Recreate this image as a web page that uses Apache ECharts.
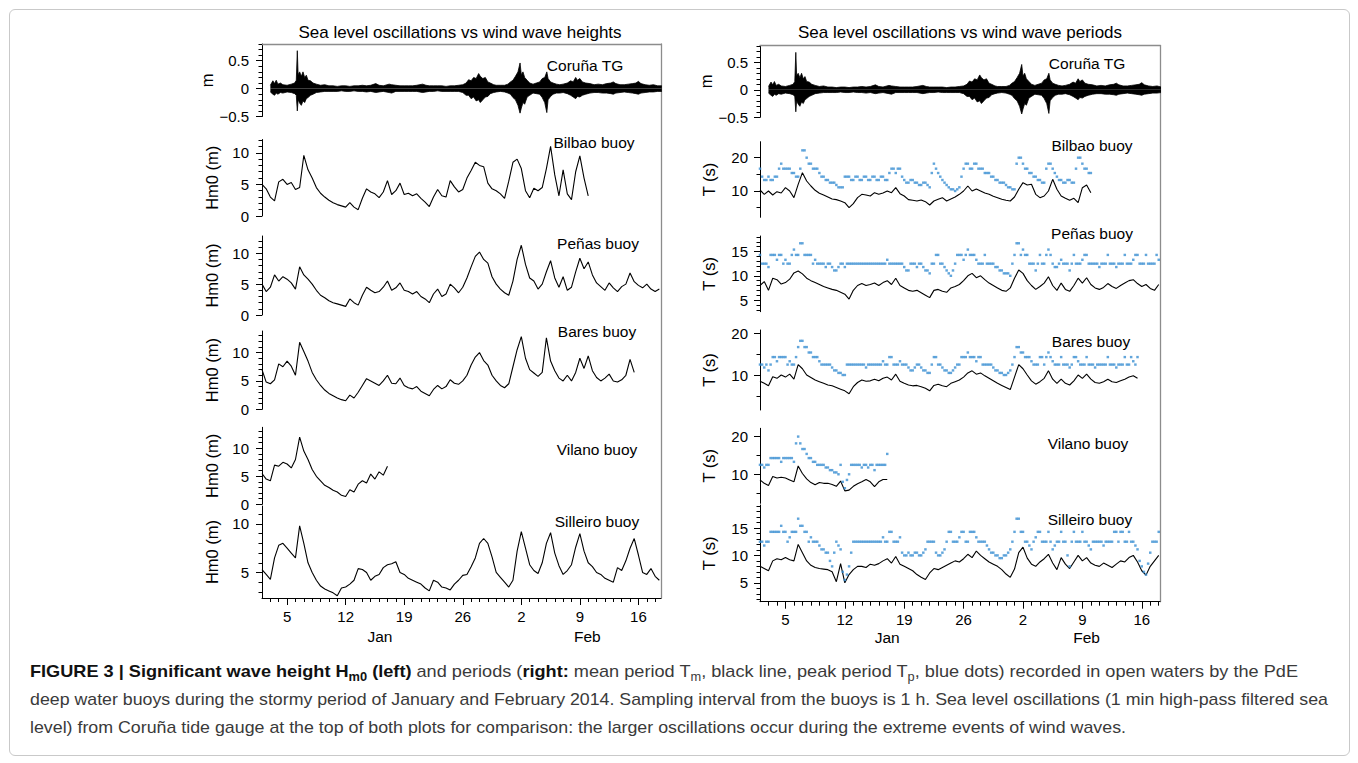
<!DOCTYPE html>
<html><head><meta charset="utf-8">
<script src="https://cdn.jsdelivr.net/npm/echarts@6/dist/echarts.min.js"></script>
<style>
html,body{margin:0;padding:0;background:#fff;}
#frame{position:absolute;left:9px;top:9px;width:1339px;height:745px;border:1px solid #c9c9c9;border-radius:6px;}
#chart{position:absolute;left:0;top:0;width:1358px;height:652px;}
.cap{position:absolute;left:30px;white-space:nowrap;font-family:'Liberation Sans Narrow','Liberation Sans',Arial,sans-serif;font-size:17px;color:#3a3a3a;transform-origin:0 50%;line-height:20px;height:20px;}
.cap b{color:#111;}
.cap sub{font-size:12px;vertical-align:-4px;line-height:0;}
</style></head><body>
<div id="frame"></div>
<div id="chart"></div>
<div class="cap" id="c1" style="top:662px"><b>FIGURE 3 | Significant wave height H<sub>m0</sub> (left)</b> and periods (<b>right:</b> mean period T<sub>m</sub>, black line, peak period T<sub>p</sub>, blue dots) recorded in open waters by the PdE</div>
<div class="cap" id="c2" style="top:690px">deep water buoys during the stormy period of January and February 2014. Sampling interval from the buoys is 1 h. Sea level oscillations (1 min high-pass filtered sea</div>
<div class="cap" id="c3" style="top:718px">level) from Coruña tide gauge at the top of both plots for comparison: the larger oscillations occur during the extreme events of wind waves.</div>
<script>
// ---------------- DATA ----------------
// time base: days since 2014-01-02 00:00 UTC; buoy series sampled every 0.5 day
const STEP = 0.5;
const dateTicks = ['2014-01-05','2014-01-12','2014-01-19','2014-01-26','2014-02-02','2014-02-09','2014-02-16'];
const monthLabels = ['Jan','Feb'];
const tgTicks = [-0.5, 0, 0.5];
const hmTicks = [0, 5, 10];
const hmTicksSilleiro = [5, 10];
const tTicksWide = [10, 20];
const tTicksNarrow = [5, 10, 15];

// Coruña tide gauge: envelope of the 1-min high-pass sea level (m)
const tgDays = [1.0,1.3,1.5,1.7,1.9,2.2,2.5,3.0,3.5,3.9,
 4.1,4.22,4.32,4.5,4.7,4.9,5.1,5.3,5.5,5.8,
 6.1,6.5,7.0,7.5,8.0,8.5,9.0,9.5,10.0,10.5,
 11.0,11.5,12.0,12.5,13.0,13.6,14.0,14.5,15.2,15.5,
 16.0,16.5,17.0,17.5,18.0,18.5,19.2,19.6,20.0,20.5,
 21.0,21.5,22.0,22.5,23.0,23.5,24.0,24.4,24.7,25.0,
 25.3,25.6,25.9,26.1,26.4,26.7,27.0,27.3,27.7,28.0,
 28.5,29.0,29.4,29.7,30.0,30.3,30.6,30.85,31.0,31.2,
 31.4,31.7,32.0,32.4,32.8,33.2,33.5,33.8,34.05,34.2,
 34.5,34.8,35.2,35.6,36.0,36.5,36.9,37.2,37.5,37.7,
 38.0,38.3,38.7,39.2,39.7,40.2,40.7,41.2,41.7,42.0,
 42.3,42.8,43.3,43.8,44.3,44.7,45.0,45.3,45.8,46.3,
 46.8,47.3,47.8];
const tgUpper = [0.06,0.14,0.09,0.15,0.08,0.10,0.07,0.06,0.08,0.10,
 0.15,0.68,0.25,0.30,0.22,0.30,0.20,0.24,0.15,0.14,
 0.10,0.08,0.06,0.07,0.05,0.05,0.04,0.05,0.05,0.04,
 0.05,0.05,0.06,0.05,0.06,0.09,0.06,0.05,0.08,0.07,
 0.06,0.05,0.05,0.05,0.05,0.06,0.08,0.06,0.05,0.05,
 0.05,0.05,0.04,0.05,0.05,0.06,0.07,0.10,0.16,0.14,
 0.20,0.18,0.27,0.22,0.18,0.20,0.12,0.10,0.07,0.06,
 0.06,0.06,0.08,0.12,0.15,0.22,0.30,0.46,0.25,0.30,
 0.20,0.15,0.10,0.08,0.10,0.12,0.18,0.20,0.30,0.18,
 0.12,0.10,0.08,0.07,0.08,0.10,0.14,0.12,0.20,0.15,
 0.18,0.12,0.10,0.09,0.07,0.08,0.07,0.09,0.10,0.12,
 0.09,0.07,0.07,0.08,0.09,0.10,0.13,0.09,0.07,0.06,
 0.07,0.05,0.05];
const tgLower = [-0.06,-0.10,-0.12,-0.08,-0.10,-0.07,-0.08,-0.06,-0.07,-0.09,
 -0.12,-0.40,-0.20,-0.26,-0.30,-0.22,-0.25,-0.18,-0.16,-0.12,
 -0.10,-0.07,-0.06,-0.05,-0.05,-0.05,-0.05,-0.04,-0.05,-0.05,
 -0.04,-0.05,-0.05,-0.06,-0.05,-0.07,-0.06,-0.05,-0.07,-0.08,
 -0.05,-0.05,-0.05,-0.05,-0.05,-0.05,-0.07,-0.06,-0.05,-0.05,
 -0.04,-0.05,-0.05,-0.05,-0.05,-0.05,-0.07,-0.12,-0.12,-0.18,
 -0.15,-0.22,-0.20,-0.25,-0.20,-0.15,-0.14,-0.09,-0.07,-0.06,
 -0.05,-0.06,-0.08,-0.10,-0.16,-0.20,-0.30,-0.44,-0.35,-0.25,
 -0.28,-0.15,-0.12,-0.08,-0.09,-0.10,-0.16,-0.25,-0.43,-0.20,
 -0.14,-0.10,-0.08,-0.08,-0.07,-0.09,-0.12,-0.15,-0.18,-0.14,
 -0.15,-0.12,-0.10,-0.08,-0.07,-0.07,-0.08,-0.08,-0.09,-0.10,
 -0.08,-0.07,-0.06,-0.07,-0.08,-0.09,-0.10,-0.08,-0.07,-0.06,
 -0.06,-0.05,-0.05];

// Significant wave height Hm0 (m), from day 0
const hm0Bilbao = [5.0,4.3,3.0,2.4,5.4,5.8,5.0,5.3,4.2,4.5, 9.6,7.3,6.0,4.5,3.6,3.0,2.5,2.1,1.8,1.6,
 1.4,2.1,1.4,1.0,2.8,4.3,3.8,3.5,2.9,3.8, 5.6,3.4,4.0,5.2,3.4,3.6,3.2,3.5,2.8,2.2,
 1.5,3.0,4.2,3.2,3.0,5.6,4.6,3.8,4.2,6.0, 7.2,8.5,8.0,7.8,5.2,4.3,4.0,3.5,2.8,5.5,
 8.5,9.0,7.5,4.0,2.9,4.4,4.0,4.5,7.5,11.0, 6.5,3.2,7.3,3.5,2.6,7.0,9.5,6.0,3.2];
const hm0Penas = [5.0,3.8,4.5,6.5,5.5,6.2,5.8,5.2,4.2,7.8, 6.5,5.8,5.0,4.0,3.2,2.8,2.3,2.0,1.8,1.6,
 1.4,2.6,2.0,1.6,3.2,4.5,4.0,3.6,3.8,4.5, 5.5,4.0,4.4,5.2,4.0,3.8,3.4,3.8,3.0,2.6,
 2.0,3.4,4.2,3.0,3.4,5.0,4.4,3.6,4.5,6.0, 7.8,9.5,10.2,9.0,8.4,6.2,5.0,4.2,3.6,3.2,
 5.5,9.0,11.3,8.2,6.0,5.5,4.2,5.0,7.0,8.8, 6.0,4.5,6.2,4.0,4.5,7.0,9.2,7.5,8.6,6.5,
 5.2,4.6,4.0,5.2,4.4,3.8,4.6,5.0,6.8,5.4, 4.8,4.4,5.0,4.2,3.8,4.2];
const hm0Bares = [7.0,4.8,4.5,5.2,8.0,7.5,8.5,7.6,6.0,11.8, 10.2,8.5,6.5,5.2,4.2,3.4,2.8,2.4,2.0,1.7,
 1.5,2.5,2.0,3.0,4.2,5.4,5.0,4.6,4.2,5.0, 6.0,4.6,4.5,5.5,4.2,3.8,3.6,4.0,3.2,2.8,
 2.4,3.5,4.2,3.6,4.0,5.2,4.6,4.4,5.0,6.0, 7.8,9.2,10.0,8.6,7.8,6.0,5.0,4.2,3.8,4.5,
 7.5,10.5,12.8,9.0,7.0,6.4,5.8,6.5,12.6,8.5, 6.8,5.5,5.0,6.0,5.0,6.5,9.0,7.2,9.4,6.8,
 5.6,5.0,5.5,6.2,5.0,4.8,5.2,6.0,8.8,6.5];
const hm0Vilano = [5.5,4.5,4.2,7.0,6.8,7.5,7.2,6.5,8.0,12.0, 9.5,8.0,6.2,5.0,4.2,3.4,3.0,2.5,2.2,1.6,
 1.4,2.6,2.2,3.6,4.2,3.8,5.4,4.5,5.8,5.2, 6.8];
const hm0Silleiro = [5.3,4.8,4.3,6.5,7.8,8.0,7.5,7.0,6.5,9.8, 8.0,6.0,5.0,4.2,3.6,3.3,3.1,2.9,2.6,3.4,
 3.5,3.8,4.2,5.4,5.3,5.0,4.2,4.6,4.8,5.5, 5.8,5.9,6.1,5.0,4.8,4.4,4.2,4.0,3.8,3.4,
 3.1,4.2,4.0,3.5,3.4,3.2,3.8,4.2,4.7,4.8, 5.6,6.5,8.0,8.5,8.0,6.6,5.0,4.5,4.0,3.5,
 4.2,7.2,9.2,7.5,5.8,5.2,4.9,6.0,8.0,9.1, 7.0,5.7,4.8,5.2,5.8,7.6,9.0,7.2,6.0,5.6,
 5.0,4.8,4.4,4.2,4.0,5.5,5.2,6.2,7.5,8.5, 6.8,5.0,4.8,5.4,4.6,4.2];

// Mean period Tm (s), from day 0
const tmBilbao = [10.3,9.0,10.0,8.8,9.8,9.4,11.0,10.0,8.0,12.0, 15.5,13.0,11.5,10.2,9.3,8.8,8.2,7.6,7.4,7.0,
 6.5,5.0,6.2,8.0,9.0,8.8,8.5,9.5,9.0,9.4, 10.0,9.5,11.0,9.2,8.5,7.4,7.2,7.0,7.3,6.8,
 5.8,7.0,7.5,8.0,7.0,7.6,8.2,9.0,10.0,11.5, 10.0,10.6,10.0,9.4,9.0,8.4,8.0,7.5,7.2,7.0,
 8.2,10.5,12.5,11.8,12.0,9.0,8.0,8.5,10.0,13.5, 10.5,8.5,7.8,7.2,7.8,6.5,11.0,11.8,9.5];
const tmPenas = [8.0,8.8,7.0,9.5,9.2,8.3,8.6,9.3,10.6,11.0, 10.4,9.5,9.0,8.6,8.2,7.8,7.5,7.2,7.0,6.6,
 6.2,5.2,7.0,8.0,8.4,8.0,8.2,8.5,8.0,8.6, 9.0,8.2,9.5,8.0,7.5,7.0,6.8,7.0,6.5,6.0,
 5.5,7.0,7.2,6.8,6.6,7.5,7.8,8.2,9.0,10.0, 10.5,9.6,10.0,9.2,8.5,8.0,7.5,7.0,6.8,7.5,
 9.5,11.2,10.5,9.0,8.0,7.2,7.8,8.5,9.8,8.0, 7.0,8.5,7.2,6.8,8.0,9.5,8.5,9.6,8.2,7.5,
 7.2,7.6,8.4,7.8,7.4,8.0,8.5,9.0,9.2,8.4, 7.8,8.2,7.4,7.0,8.2];
const tmBares = [8.5,8.0,7.4,9.6,9.2,10.0,9.5,10.2,9.0,12.5, 11.5,10.0,9.4,8.8,8.4,8.0,7.6,7.4,7.0,6.6,
 6.2,5.5,7.2,8.2,8.8,8.5,8.6,9.0,8.6,9.2, 9.5,8.8,10.2,8.5,8.0,7.6,7.4,7.5,7.2,6.8,
 6.2,7.5,7.8,7.4,7.2,8.0,8.4,8.8,9.5,10.5, 11.0,10.2,10.5,9.8,9.2,8.6,8.0,7.5,7.0,6.5,
 9.5,12.5,11.5,10.0,8.6,7.8,8.4,9.2,11.0,9.0, 8.0,9.0,8.0,7.6,8.6,10.0,9.2,10.2,9.0,8.2,
 8.0,8.4,9.0,8.4,8.2,8.6,9.0,9.5,9.8,9.2];
const tmVilano = [8.5,7.6,7.0,9.4,9.0,9.2,9.0,8.5,8.0,12.2, 10.2,8.8,7.8,7.2,7.8,7.6,7.6,7.3,6.8,8.2,
 5.6,5.8,6.8,7.5,8.0,8.6,8.0,6.7,8.0,8.6, 8.6];
const tmSilleiro = [8.0,7.6,7.2,9.0,9.4,9.2,9.6,9.2,9.0,12.0, 10.5,9.0,8.2,7.8,7.6,7.5,7.4,7.0,5.2,8.5,
 5.0,6.5,7.4,8.0,8.0,7.8,8.4,8.2,8.5,9.0, 9.4,8.6,9.8,8.4,8.0,7.6,7.2,6.5,6.0,5.6,
 6.8,7.6,7.4,7.8,8.2,8.6,9.0,8.8,9.4,10.2, 9.6,10.8,10.0,9.4,8.8,8.4,8.0,7.4,6.6,6.0,
 7.5,10.5,11.5,9.5,8.4,8.0,8.8,9.4,10.2,8.6, 7.4,9.6,8.4,7.6,8.8,10.0,9.0,9.6,8.6,8.2,
 8.0,8.6,8.2,7.8,8.4,9.0,8.8,9.6,10.0,8.8, 7.2,6.4,8.0,9.0,10.0];

// Peak period Tp (s): samples on the whole and half days (from day 0) ...
const tpBilbao = [16.7,13.3,14.3,13.3,14.3,18.2,16.7,16.7,15.4,14.3, 22.2,20,18.2,16.7,15.4,14.3,13.3,12.5,11.8,11.1,
 14.3,14.3,13.3,14.3,13.3,14.3,13.3,14.3,13.3,14.3, 13.3,16.7,15.4,16.7,13.3,12.5,13.3,12.5,11.8,12.5,
 11.1,18.2,15.4,13.3,11.8,10.5,10,11.1,16.7,18.2, 16.7,18.2,16.7,15.4,15.4,14.3,13.3,12.5,11.8,11.1,
 10.5,20,18.2,16.7,15.4,14.3,13.3,12.5,18.2,16.7, 14.3,13.3,12.5,13.3,12.5,20,18.2,16.7,15.4];
const tpPenas = [14.3,12.5,11.8,14.3,13.3,14.3,13.3,12.5,15.4,14.3, 16.7,14.3,14.3,13.3,12.5,12.5,12.5,11.8,11.1,12.5,
 11.8,12.5,12.5,12.5,12.5,12.5,12.5,12.5,12.5,12.5, 13.3,12.5,12.5,12.5,11.8,11.1,12.5,11.8,12.5,11.1,
 10.5,12.5,14.3,12.5,11.1,10.0,12.5,14.3,13.3,15.4, 14.3,13.3,12.5,14.3,12.5,12.5,11.8,11.1,10.5,10.0,
 14.3,16.7,15.4,14.3,12.5,11.1,14.3,12.5,15.4,12.5, 11.8,13.3,12.5,11.1,14.3,12.5,13.3,14.3,12.5,12.5,
 11.8,12.5,14.3,12.5,11.8,12.5,14.3,12.5,13.3,14.3, 12.5,14.3,12.5,12.5,13.3];
const tpBares = [12.5,11.8,11.1,14.3,13.3,14.3,14.3,13.3,12.5,16.7, 18.2,16.7,15.4,14.3,13.3,12.5,12.5,11.8,11.1,10.5,
 10.0,12.5,12.5,12.5,12.5,11.8,12.5,12.5,12.5,13.3, 12.5,14.3,12.5,13.3,12.5,11.8,11.1,12.5,11.8,11.1,
 10.5,14.3,12.5,11.8,11.1,10.5,11.8,12.5,14.3,15.4, 14.3,13.3,14.3,12.5,12.5,11.8,11.1,10.5,10.0,11.1,
 14.3,16.7,15.4,14.3,13.3,12.5,14.3,12.5,15.4,13.3, 12.5,14.3,12.5,11.8,14.3,13.3,12.5,14.3,12.5,11.8,
 12.5,12.5,14.3,12.5,11.8,12.5,14.3,12.5,13.3,14.3];
const tpVilano = [12.5,11.8,12.5,14.3,14.3,13.3,14.3,14.3,13.3,20, 16.7,15.4,14.3,13.3,12.5,12.5,11.8,11.1,10.5,12.5,
 6.3,10.0,12.5,12.5,11.8,12.5,12.5,11.1,12.5,12.5, 15.4];
const tpSilleiro = [12.5,11.8,12.5,14.3,14.3,15.4,14.3,13.3,14.3,16.7, 15.4,14.3,13.3,12.5,11.8,11.1,10.5,8.0,12.5,11.1,
 5.5,8.0,12.5,12.5,12.5,12.5,12.5,12.5,12.5,13.3, 12.5,14.3,12.5,13.3,10.0,10.5,10.0,10.5,10.0,11.1,
 12.5,12.5,10.0,10.5,12.5,14.3,12.5,13.3,14.3,12.5, 14.3,13.3,12.5,12.5,11.1,10.5,10.0,9.5,10.0,11.1,
 14.3,16.7,14.3,12.5,11.1,13.3,14.3,12.5,14.3,11.1, 12.5,14.3,12.5,8.0,14.3,12.5,14.3,12.5,11.1,12.5,
 12.5,11.8,12.5,12.5,14.3,14.3,12.5,14.3,12.5,11.1, 8.0,6.5,10.5,12.5,14.3];
// ... and the samples in between (from day 0.25)
const tp2Bilbao = [14.3,13.3,13.3,14.3,16.7,16.7,16.7,15.4,14.3,16.7, 22.2,18.2,16.7,16.7,14.3,13.3,12.5,12.5,11.1,11.1,
 14.3,13.3,14.3,13.3,14.3,13.3,14.3,13.3,14.3,13.3, 15.4,16.7,16.7,14.3,12.5,13.3,12.5,11.8,12.5,11.8,
 15.4,16.7,14.3,12.5,11.1,10.5,10.5,14.3,18.2,16.7, 18.2,16.7,16.7,15.4,14.3,13.3,12.5,12.5,11.1,10.5,
 18.2,20,16.7,15.4,14.3,13.3,12.5,16.7,18.2,15.4, 13.3,12.5,13.3,12.5,16.7,20,16.7,15.4];
const tp2Penas = [12.5,12.5,14.3,14.3,14.3,12.5,12.5,14.3,14.3,16.7, 14.3,14.3,12.5,12.5,12.5,11.8,12.5,11.1,11.8,12.5,
 12.5,12.5,12.5,12.5,12.5,12.5,12.5,12.5,12.5,12.5, 12.5,12.5,12.5,12.5,11.1,12.5,12.5,12.5,11.8,11.1,
 12.5,14.3,12.5,11.8,10.5,11.1,14.3,14.3,14.3,14.3, 14.3,12.5,12.5,12.5,12.5,11.8,11.1,10.5,10.5,12.5,
 16.7,14.3,14.3,12.5,12.5,12.5,12.5,14.3,14.3,11.8, 12.5,12.5,12.5,12.5,12.5,12.5,14.3,12.5,12.5,12.5,
 12.5,12.5,12.5,12.5,12.5,12.5,12.5,12.5,14.3,12.5, 12.5,12.5,12.5,14.3];
const tp2Bares = [12.5,12.5,12.5,14.3,14.3,14.3,12.5,12.5,14.3,18.2, 16.7,15.4,14.3,14.3,12.5,12.5,12.5,11.1,10.5,10.0,
 12.5,12.5,12.5,12.5,12.5,12.5,12.5,12.5,12.5,12.5, 14.3,12.5,12.5,12.5,12.5,11.1,11.8,12.5,11.1,10.5,
 12.5,14.3,12.5,11.1,10.5,11.1,12.5,14.3,14.3,14.3, 14.3,14.3,12.5,12.5,12.5,11.1,10.5,10.0,10.5,12.5,
 16.7,15.4,14.3,14.3,12.5,12.5,14.3,14.3,14.3,12.5, 12.5,12.5,12.5,12.5,14.3,12.5,12.5,12.5,12.5,12.5,
 12.5,12.5,12.5,12.5,12.5,12.5,12.5,14.3,12.5];
const tp2Vilano = [12.5,12.5,14.3,14.3,14.3,14.3,14.3,14.3,18.2,18.2, 16.7,14.3,13.3,12.5,12.5,11.8,11.1,10.5,10.0,8.0,
 8.5,12.5,12.5,12.5,12.5,11.8,12.5,12.5,12.5,12.5];
const tp2Silleiro = [12.5,12.5,14.3,14.3,14.3,14.3,12.5,14.3,14.3,15.4, 14.3,12.5,12.5,12.5,11.1,10.5,9.0,10.5,11.8,7.0,
 6.5,10.5,12.5,12.5,12.5,12.5,12.5,12.5,12.5,12.5, 14.3,12.5,12.5,10.5,10.0,10.0,10.5,10.0,10.5,12.5,
 12.5,10.5,10.0,11.1,14.3,12.5,12.5,14.3,12.5,14.3, 14.3,12.5,12.5,11.8,10.5,10.0,9.5,10.0,10.5,12.5,
 16.7,14.3,12.5,11.8,12.5,14.3,12.5,12.5,12.5,11.8, 12.5,12.5,10.0,12.5,12.5,12.5,12.5,11.8,12.5,12.5,
 12.5,12.5,12.5,14.3,12.5,14.3,12.5,12.5,11.8,9.0, 7.0,8.5,12.5,12.5];

// ---------------- CHART ----------------
const DAY = 86400000;
const T0 = Date.UTC(2014, 0, 2);
const parseDate = s => { const p = s.split('-').map(Number); return (Date.UTC(p[0], p[1]-1, p[2]) - T0) / DAY; };
const majorDays = dateTicks.map(parseDate);   // x axis in days since 2 Jan 2014
const dayLabel = v => String(new Date(T0 + v * DAY).getUTCDate());
const monthLabel = v => monthLabels[new Date(T0 + v * DAY).getUTCMonth()];
const toData = (arr, start) => arr.map((v, i) => [start + i * STEP, v]);
const pairData = (days, arr) => arr.map((v, i) => [days[i], v]);
const range = (a, b, s) => { const r = []; for (let v = a; v <= b + 1e-9; v += s) r.push(+v.toFixed(3)); return r; };
const fmtY = v => (v < 0 ? '\u2212' + Math.abs(v) : String(v));
const FONT = '"Liberation Sans", Arial, Helvetica, sans-serif';
const BLUE = '#3a8fd2';

const cols = [
  { x: 262, w: 399, xmax: 47.7, frameTop: 44, frameBottom: 598, nameGap: 42, labMargin: 13,
    dayMargin: 11, monthMargin: 30, monthDays: [14.1, 38.9],
    title: { text: 'Sea level oscillations vs wind wave heights', x: 460, y: 32.5 },
    panels: [
      { top: 44, bottom: 116.5, min: -0.5, max: 0.8, major: tgTicks, minor: range(-0.5, 0.8, 0.1), name: 'm', lab: ['Coruña TG', 585, 65], kind: 'tg' },
      { top: 139.5, bottom: 216, min: 0, max: 12.1, major: hmTicks, minor: range(0, 12, 1), name: 'Hm0 (m)', lab: ['Bilbao buoy', 594, 142], line: hm0Bilbao },
      { top: 236, bottom: 315, min: 0, max: 12.8, major: hmTicks, minor: range(0, 12, 1), name: 'Hm0 (m)', lab: ['Peñas buoy', 598, 243], line: hm0Penas },
      { top: 331, bottom: 409.3, min: 0, max: 13.8, major: hmTicks, minor: range(0, 13, 1), name: 'Hm0 (m)', lab: ['Bares buoy', 597, 331], line: hm0Bares },
      { top: 427.3, bottom: 504.3, min: 0, max: 13.75, major: hmTicks, minor: range(0, 13, 1), name: 'Hm0 (m)', lab: ['Vilano buoy', 597, 449], line: hm0Vilano },
      { top: 506, bottom: 598, min: 2.37, max: 11.85, major: hmTicksSilleiro, minor: range(3, 11, 1), name: 'Hm0 (m)', lab: ['Silleiro buoy', 597, 521], line: hm0Silleiro }
    ] },
  { x: 760, w: 400, xmax: 47.15, frameTop: 45.5, frameBottom: 601.7, nameGap: 43, labMargin: 12,
    dayMargin: 10, monthMargin: 28, monthDays: [15, 38.5],
    title: { text: 'Sea level oscillations vs wind wave periods', x: 960, y: 32.5 },
    panels: [
      { top: 45.5, bottom: 117.3, min: -0.5, max: 0.805, major: tgTicks, minor: range(-0.5, 0.8, 0.1), name: 'm', lab: ['Coruña TG', 1087, 63], kind: 'tg' },
      { top: 141.7, bottom: 217.3, min: 2.1, max: 24.8, major: tTicksWide, minor: [5, 15], name: 'T (s)', lab: ['Bilbao buoy', 1092, 145], line: tmBilbao, dots: tpBilbao, dots2: tp2Bilbao },
      { top: 236, bottom: 311.7, min: 2.6, max: 18.2, major: tTicksNarrow, minor: range(3, 18, 1), name: 'T (s)', lab: ['Peñas buoy', 1092, 233], line: tmPenas, dots: tpPenas, dots2: tp2Penas },
      { top: 330, bottom: 410, min: 1.6, max: 20.8, major: tTicksWide, minor: [5, 15], name: 'T (s)', lab: ['Bares buoy', 1091, 341], line: tmBares, dots: tpBares, dots2: tp2Bares },
      { top: 428.3, bottom: 503.3, min: 2.3, max: 22.2, major: tTicksWide, minor: [5, 15], name: 'T (s)', lab: ['Vilano buoy', 1088, 443], line: tmVilano, dots: tpVilano, dots2: tp2Vilano },
      { top: 505, bottom: 601.7, min: 1.55, max: 19.2, major: tTicksNarrow, minor: range(2, 19, 1), name: 'T (s)', lab: ['Silleiro buoy', 1090, 519], line: tmSilleiro, dots: tpSilleiro, dots2: tp2Silleiro }
    ] }
];

const option = { animation: false, backgroundColor: 'transparent',
  textStyle: { fontFamily: FONT, color: '#000' },
  grid: [], xAxis: [], yAxis: [], series: [], graphic: [] };

const noSplit = { show: false };
cols.forEach(col => {
  const xmin = 0, xmax = col.xmax;
  // frame (top and right edges)
  const fg = option.grid.length;
  option.grid.push({ left: col.x, top: col.frameTop, width: col.w, height: col.frameBottom - col.frameTop });
  option.xAxis.push({ type: 'value', gridIndex: fg, min: 0, max: 1, position: 'top',
    axisLine: { show: true, onZero: false, lineStyle: { color: '#8c8c8c', width: 1.3 } },
    axisTick: { show: false }, axisLabel: { show: false }, splitLine: noSplit });
  option.yAxis.push({ type: 'value', gridIndex: fg, min: 0, max: 1, position: 'right',
    axisLine: { show: true, onZero: false, lineStyle: { color: '#8c8c8c', width: 1.3 } },
    axisTick: { show: false }, axisLabel: { show: false }, splitLine: noSplit });

  option.graphic.push({ type: 'text', x: col.title.x, y: col.title.y,
    style: { text: col.title.text, font: '17px ' + FONT, fill: '#000', textAlign: 'center', textVerticalAlign: 'middle' } });

  col.panels.forEach((p, k) => {
    const isBottom = k === col.panels.length - 1;
    const gi = option.grid.length;
    option.grid.push({ left: col.x, top: p.top, width: col.w, height: p.bottom - p.top });
    const xi = option.xAxis.length;
    option.xAxis.push({ type: 'value', gridIndex: gi, min: xmin, max: xmax, position: 'bottom', show: isBottom,
      axisLine: { show: true, onZero: false, lineStyle: { color: '#000', width: 1 } },
      axisTick: { show: true, customValues: majorDays, length: 7, lineStyle: { color: '#000', width: 1 } },
      axisLabel: { show: true, customValues: majorDays, margin: col.dayMargin, fontSize: 15, color: '#000', fontFamily: FONT,
        formatter: dayLabel },
      splitLine: noSplit });
    if (isBottom) {
      option.xAxis.push({ type: 'value', gridIndex: gi, min: xmin, max: xmax, position: 'bottom',
        axisLine: { show: false, onZero: false },
        axisTick: { show: true, customValues: range(1, Math.floor(col.xmax), 1), length: 4, lineStyle: { color: '#000', width: 1 } },
        axisLabel: { show: false }, splitLine: noSplit });
      option.xAxis.push({ type: 'value', gridIndex: gi, min: xmin, max: xmax, position: 'bottom',
        axisLine: { show: false, onZero: false }, axisTick: { show: false },
        axisLabel: { show: true, customValues: col.monthDays, margin: col.monthMargin, fontSize: 15.5, color: '#000', fontFamily: FONT,
          formatter: monthLabel },
        splitLine: noSplit });
    }
    const yi = option.yAxis.length;
    option.yAxis.push({ type: 'value', gridIndex: gi, min: p.min, max: p.max, position: 'left',
      name: p.name, nameLocation: 'middle', nameGap: col.nameGap, nameRotate: 90,
      nameTextStyle: { fontSize: 16.5, color: '#000', fontFamily: FONT },
      axisLine: { show: true, onZero: false, lineStyle: { color: '#000', width: 1 } },
      axisTick: { show: true, customValues: p.major, length: 6, lineStyle: { color: '#000', width: 1 } },
      axisLabel: { show: true, customValues: p.major, formatter: fmtY, margin: col.labMargin, fontSize: 15, color: '#000', fontFamily: FONT },
      splitLine: noSplit });
    option.yAxis.push({ type: 'value', gridIndex: gi, min: p.min, max: p.max, position: 'left',
      axisLine: { show: false, onZero: false },
      axisTick: { show: true, customValues: p.minor, length: 3.5, lineStyle: { color: '#000', width: 1 } },
      axisLabel: { show: false }, splitLine: noSplit });

    option.graphic.push({ type: 'text', x: p.lab[1], y: p.lab[2],
      style: { text: p.lab[0], font: '15.5px ' + FONT, fill: '#000', textAlign: 'center', textVerticalAlign: 'middle' } });

    if (p.kind === 'tg') {
      [tgUpper, tgLower].forEach(arr => option.series.push({ type: 'line', xAxisIndex: xi, yAxisIndex: yi,
        data: pairData(tgDays, arr), showSymbol: false, symbol: 'none',
        lineStyle: { color: '#000', width: 0.8 }, areaStyle: { color: '#000', opacity: 1 } }));
    } else {
      option.series.push({ type: 'line', xAxisIndex: xi, yAxisIndex: yi, data: toData(p.line, 0),
        showSymbol: false, symbol: 'none', lineStyle: { color: '#000', width: 1.1 }, z: 3 });
      if (p.dots) {
        option.series.push({ type: 'scatter', xAxisIndex: xi, yAxisIndex: yi,
          data: toData(p.dots, 0).concat(toData(p.dots2, 0.25)),
          symbol: 'rect', symbolSize: [2.5, 2.4], itemStyle: { color: BLUE }, z: 4 });
      }
    }
  });
});

// caption lines fitted to the reference line lengths
const capTargets = { c1: 1268, c2: 1298, c3: 1096 };
function fitCaps() {
  Object.keys(capTargets).forEach(id => {
    const el = document.getElementById(id);
    el.style.transform = 'none';
    const w = el.getBoundingClientRect().width;
    if (w > 0) el.style.transform = 'scaleX(' + (capTargets[id] / w) + ')';
  });
}
fitCaps();
if (document.fonts && document.fonts.ready) document.fonts.ready.then(fitCaps);

const chart = echarts.init(document.getElementById('chart'), null, { renderer: 'svg' });
chart.setOption(option);
</script>
</body></html>
